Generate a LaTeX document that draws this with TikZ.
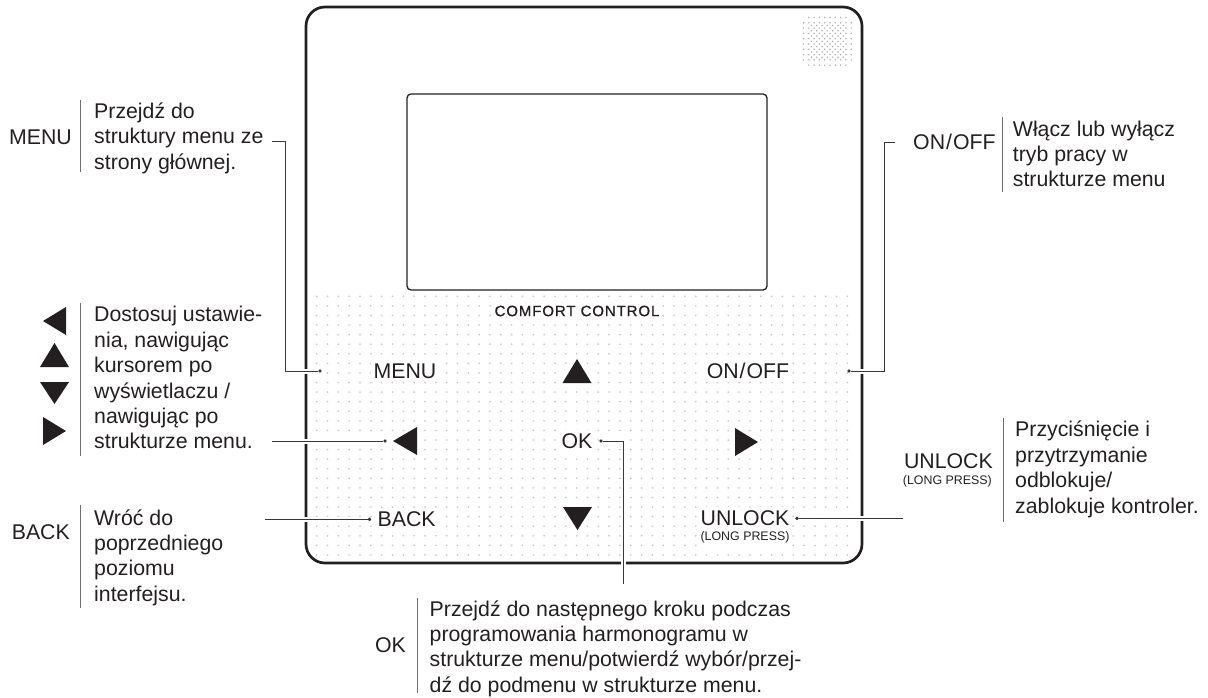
\documentclass[tikz,border=0pt]{standalone}
\usepackage{fontspec}
\setmainfont{Liberation Sans}
\usetikzlibrary{positioning,calc}
\definecolor{ink}{RGB}{35,31,32}
\definecolor{wiregray}{RGB}{55,55,55}
\definecolor{bargray}{RGB}{110,110,110}
\definecolor{dotgray}{RGB}{200,200,200}
\definecolor{grillegray}{RGB}{175,175,175}
\newcommand{\descfont}{\fontsize{21.3}{25.4}\selectfont}
\newcommand{\keyfont}{\fontsize{21.3}{25.4}\selectfont}
\newcommand{\smallkey}{\fontsize{12.4}{14}\selectfont}
\tikzset{
  desc/.style  = {font=\descfont, text=ink, align=left, inner sep=0pt, anchor=north west},
  key/.style   = {font=\keyfont, text=ink, inner sep=0pt},
  btn/.style   = {font=\keyfont, text=ink, fill=white, inner sep=3pt},
  bar/.style   = {draw=bargray, line width=0.9pt},
  conn/.style  = {draw=wiregray, line width=0.9pt, preaction={draw=white, line width=5pt}},
  pin/.style   = {circle, fill=wiregray, inner sep=0pt, minimum size=3.4pt},
  tri/.style   = {fill=ink, preaction={draw=white, line width=6pt, line join=round}},
  shell/.style = {draw=ink, line width=2.7pt, rounded corners=19pt}
}
\begin{document}
\begin{tikzpicture}[x=1pt, y=-1pt]
\useasboundingbox (0,0) rectangle (1208,697);

% --- Punktraster ---------------------------------------------------
\begin{scope}
  \clip[rounded corners=19pt] (306,7) rectangle (862,563);
  \foreach \r in {0,...,27}
    \foreach \c in {0,...,49}
      \fill[dotgray] ({316.7+\c*10.83},{296.3+\r*9.58}) circle (1pt);
\end{scope}
\begin{scope}
  \clip (827.3,41.3) circle (31pt);
  \foreach \r in {0,...,9}
    \foreach \c in {0,...,9}
      \fill[grillegray] ({803.5+\c*5.3},{17.5+\r*5.3}) circle (0.85pt);
  \foreach \r in {1,...,7}
    \foreach \c in {1,...,7}
      \fill[grillegray] ({806.15+\c*5.3},{20.15+\r*5.3}) circle (0.85pt);
\end{scope}

% --- Gehaeuse -----------------------------------------------------
\draw[shell] (306,7) rectangle (862,563);
\draw[ink, line width=1.3pt, rounded corners=4pt] (407,94) rectangle (767,290);
\node[fill=white, inner sep=3pt, text=ink,
      font=\fontsize{15}{18}\selectfont\addfontfeature{LetterSpace=6,FakeBold=0.8}] (brand) at (577,311) {COMFORT CONTROL};

% --- Tasten -------------------------------------------------------
\node[btn] (bmenu)   at (405,371)   {MENU};
\node[btn] (bonoff)  at (748,371)   {ON\kern1pt/\kern1pt OFF};
\node[btn] (bok)     at (577,441)   {OK};
\node[btn] (bback)   at (406.7,519) {BACK};
\node[btn] (bunlock) at (745,518)   {UNLOCK};
\node[btn, font=\smallkey, below=0pt of bunlock] (blong) {(LONG PRESS)};

\fill[tri] (562.5,383) -- (591.5,383) -- (577,359) -- cycle;   % hoch
\fill[tri] (563,507) -- (592,507) -- (577.5,530) -- cycle;     % runter
\fill[tri] (393,441) -- (417,427) -- (417,455) -- cycle;       % links
\fill[tri] (735,428) -- (735,456) -- (758,442) -- cycle;       % rechts

% --- Legende links -------------------------------------------------
\fill[ink] (43,321) -- (66,307) -- (66,335) -- cycle;
\fill[ink] (40,367) -- (69,367) -- (54.5,343) -- cycle;
\fill[ink] (40,382) -- (69,382) -- (54.5,404) -- cycle;
\fill[ink] (43,417) -- (43,445) -- (66,431) -- cycle;

\node[key, anchor=east] (kmenu) at (72,137.5) {MENU};
\node[desc] (dmenu) at (94,100.5) {\strut Przejdź do\\struktury menu ze\\strony głównej.};
\node[desc] (darrows) at (94,303.9) {\strut Dostosuj ustawie-\\nia, nawigując\\kursorem po\\wyświetlaczu /\\nawigując po\\strukturze menu.};
\node[key, anchor=east] (kback) at (70,532) {BACK};
\node[desc] (dback) at (94,507.2) {\strut Wróć do\\poprzedniego\\poziomu\\interfejsu.};

\draw[bar] (80,100) -- (80,172);
\draw[bar] (80,303) -- (80,456);
\draw[bar] (80,505) -- (80,608);

% --- Legende unten / rechts ------------------------------------------
\node[key, anchor=east] (kok) at (406,645.5) {OK};
\node[desc] (dok) at (429.5,598.2) {\strut Przejdź do następnego kroku podczas\\programowania harmonogramu w\\strukturze menu/potwierdź wybór/przej-\\dź do podmenu w strukturze menu.};
\node[key, anchor=west] (konoff) at (913,141.7) {ON\kern1pt/\kern1pt OFF};
\node[desc] (donoff) at (1012.7,118.2) {\strut Włącz lub wyłącz\\tryb pracy w\\strukturze menu};
\node[key, anchor=east] (kunlock) at (993,461) {UNLOCK};
\node[key, font=\smallkey, anchor=east] (klong) at (992,481.5) {(LONG PRESS)};
\node[desc] (dunlock) at (1015,418.9) {\strut Przyciśnięcie i\\przytrzymanie\\odblokuje/\\zablokuje kontroler.};

\draw[bar] (417,598) -- (417,693);
\draw[bar] (1002.7,117) -- (1002.7,192);
\draw[bar] (1003.3,418) -- (1003.3,522);

% --- Verbindungen ---------------------------------------------------
\node[pin] (pmenu)  at (320,371) {};
\node[pin] (ponoff) at (849,371) {};
\node[pin] (parrow) at (385,441) {};
\node[pin] (pok)    at (601,441) {};
\node[pin] (pback)  at (369.5,519.3) {};
\node[pin] (punl)   at (797,518.3) {};

\coordinate (cmenu)  at (272,141);
\coordinate (conoff) at (895,142);
\coordinate (carrow) at (272,441);
\coordinate (cok)    at (623,584);
\coordinate (cback)  at (265,519.3);
\coordinate (cunl)   at (903,518.3);

\draw[conn] (cmenu) -- ++(13,0) |- (pmenu);
\draw[conn] (conoff) -- ++(-11,0) |- (ponoff);
\draw[conn] (carrow) -- (parrow);
\draw[conn] (cok) |- (pok);
\draw[conn] (cback) -- (pback);
\draw[conn] (cunl) -- (punl);
\foreach \p in {pmenu,ponoff,parrow,pok,pback,punl}
  \node[pin] at (\p) {};
\end{tikzpicture}
\end{document}
